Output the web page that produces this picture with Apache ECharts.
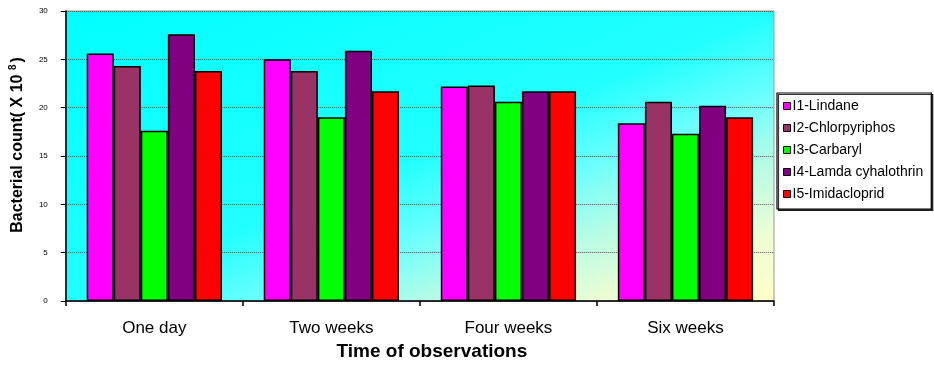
<!DOCTYPE html>
<html>
<head>
<meta charset="utf-8">
<script src="https://cdn.jsdelivr.net/npm/echarts@6/dist/echarts.min.js"></script>
<style>
html,body{margin:0;padding:0;background:#fff;}
#chart{width:934px;height:369px;}
</style>
</head>
<body>
<div id="chart"></div>
<script>
const categories = ['One day', 'Two weeks', 'Four weeks', 'Six weeks'];
const seriesNames = ['I1-Lindane', 'I2-Chlorpyriphos', 'I3-Carbaryl', 'I4-Lamda cyhalothrin', 'I5-Imidacloprid'];
const lindane = [25.6, 25.0, 22.2, 18.4];
const chlorpyriphos = [24.3, 23.8, 22.3, 20.6];
const carbaryl = [17.6, 19.0, 20.6, 17.3];
const lamdaCyhalothrin = [27.6, 25.9, 21.7, 20.2];
const imidacloprid = [23.8, 21.7, 21.7, 19.0];
const yTicks = [0, 5, 10, 15, 20, 25, 30];

const seriesValues = [lindane, chlorpyriphos, carbaryl, lamdaCyhalothrin, imidacloprid];
const colors = ['#FF00FF', '#993366', '#00FF00', '#800080', '#FF0000'];
const FONT = "'Liberation Sans', Arial, sans-serif";

const chart = echarts.init(document.getElementById('chart'), null, {renderer: 'canvas'});
chart.setOption({
  animation: false,
  backgroundColor: '#ffffff',
  textStyle: {fontFamily: FONT},
  grid: {
    left: 63, top: 11, right: 160, bottom: 68,
    show: true,
    borderColor: '#999999',
    borderWidth: 1,
    backgroundColor: {
      type: 'linear', x: 0, y: 0, x2: 0.285, y2: 1.714,
      colorStops: [
        {offset: 0, color: '#00ffff'},
        {offset: 0.5, color: '#22ffff'},
        {offset: 0.625, color: '#66ffff'},
        {offset: 0.75, color: '#b4fce6'},
        {offset: 0.875, color: '#eefdd2'},
        {offset: 1, color: '#ffffc8'}
      ]
    }
  },
  legend: {
    orient: 'vertical',
    left: 777, top: 93,
    padding: [6, 8, 8, 6],
    itemWidth: 7, itemHeight: 7,
    itemGap: 8,
    icon: 'rect',
    borderColor: '#000',
    borderWidth: 1.2,
    backgroundColor: '#fff',
    shadowColor: 'rgba(0,0,0,0.8)',
    shadowOffsetX: 1.5, shadowOffsetY: 1.5, shadowBlur: 0,
    itemStyle: {borderColor: '#000', borderWidth: 1},
    textStyle: {fontSize: 14, color: '#000', fontFamily: FONT, lineHeight: 14, padding: [0, 0, 0, -3]},
    data: seriesNames
  },
  xAxis: {
    type: 'category',
    data: categories,
    axisLine: {lineStyle: {color: '#000', width: 1.5}},
    axisTick: {show: true, length: 5, lineStyle: {color: '#000', width: 1.5}},
    axisLabel: {fontSize: 17, color: '#000', margin: 19, fontFamily: FONT},
    name: 'Time of observations',
    nameLocation: 'middle',
    nameGap: 36,
    nameTextStyle: {fontSize: 19, fontWeight: 'bold', color: '#000', fontFamily: FONT, padding: [0, 0, 0, 24]}
  },
  yAxis: {
    type: 'value',
    min: yTicks[0], max: yTicks[yTicks.length - 1], interval: 5,
    axisLine: {show: true, lineStyle: {color: '#000', width: 1.5}},
    axisTick: {show: true, length: 5, lineStyle: {color: '#000', width: 1}},
    axisLabel: {fontSize: 8, color: '#000', margin: 18, fontFamily: FONT},
    splitLine: {show: true, lineStyle: {color: '#555', width: 1, type: 'dotted'}},
    name: 'Bacterial count( X 10 {sup|8})',
    nameLocation: 'middle',
    nameRotate: 90,
    nameGap: 34,
    nameTextStyle: {
      fontSize: 16, fontWeight: 'bold', color: '#000', fontFamily: FONT,
      lineHeight: 20,
      padding: [0, 0, 0, 22],
      rich: {
        sup: {fontSize: 10, fontWeight: 'bold', color: '#000', fontFamily: FONT, verticalAlign: 'top', lineHeight: 12, padding: [0, 2, 6, 0]}
      }
    }
  },
  series: seriesNames.map((name, i) => ({
    name: name,
    type: 'bar',
    data: seriesValues[i],
    barGap: '0%',
    barCategoryGap: '23.6%',
    itemStyle: {color: colors[i], borderColor: '#000', borderWidth: 1.5}
  }))
});
</script>
</body>
</html>
